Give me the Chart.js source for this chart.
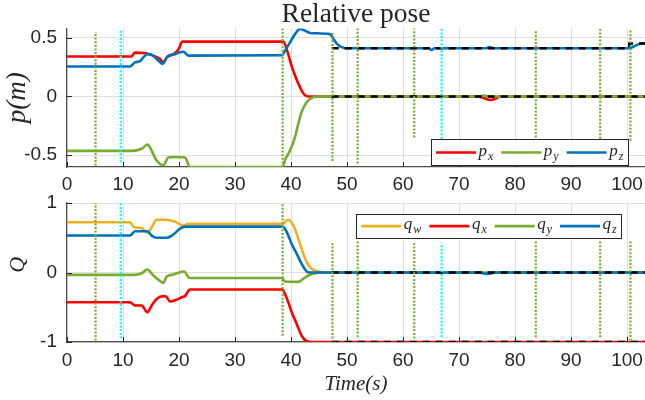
<!DOCTYPE html>
<html><head><meta charset="utf-8">
<script src="https://cdn.jsdelivr.net/npm/chart.js@4"></script>
<style>
html,body{margin:0;padding:0;background:#fff;}
#wrap{position:relative;width:645px;height:400px;overflow:hidden;background:#fff;}
#c1{position:absolute;left:0;top:0;}
#c2{position:absolute;left:0;top:185px;}
</style></head><body>
<div id="wrap"><canvas id="c1" width="645" height="200"></canvas><canvas id="c2" width="645" height="215"></canvas></div>
<script>
// ---------- data ----------
const xTickLabels = [0,10,20,30,40,50,60,70,80,90,100];
const X_MAX = 103.2;

// relative position
const pxTime = [0, 11.5, 12.1, 13.9, 15.4, 16.6, 17.2, 17.8, 19.0, 19.9, 20.6, 38.6, 39.5, 40.1, 40.7, 41.3, 41.9, 42.5, 43.1, 73.2, 74.5, 75.5, 76.5, 77.3, 103.2];
const pxVal  = [0.34, 0.34, 0.373, 0.37, 0.347, 0.32, 0.29, 0.33, 0.36, 0.40, 0.466, 0.466, 0.36, 0.26, 0.18, 0.11, 0.05, 0.01, 0, 0, -0.015, -0.03, -0.02, 0, 0];
const pyTime = [0, 11.55, 13.33, 14.35, 16.0, 17.2, 18.1, 19.29, 21.07, 21.96, 38.5, 38.93, 39.82, 40.71, 41.31, 41.9, 42.8, 43.69, 44.58, 73.5, 74.5, 75.5, 103.2];
const pyVal  = [-0.463, -0.463, -0.445, -0.41, -0.545, -0.585, -0.52, -0.515, -0.52, -0.6, -0.6, -0.54, -0.46, -0.345, -0.23, -0.13, -0.05, -0.012, 0, 0, 0.008, 0, 0];
const pzTime = [0, 11.25, 12.14, 13.04, 13.63, 14.35, 15.3, 16.3, 17.08, 17.92, 19.29, 20.77, 21.67, 38.4, 38.93, 39.82, 40.71, 41.61, 42.5, 43.39, 46.96, 47.56, 48.15, 49.05, 49.94, 64.6, 65.1, 65.6, 74.8, 75.5, 76.2, 100.5, 101.2, 102.0, 103.2];
const pzVal  = [0.255, 0.255, 0.29, 0.30, 0.333, 0.36, 0.35, 0.305, 0.277, 0.34, 0.36, 0.38, 0.347, 0.35, 0.39, 0.46, 0.53, 0.575, 0.56, 0.54, 0.53, 0.49, 0.45, 0.42, 0.41, 0.41, 0.395, 0.41, 0.41, 0.42, 0.41, 0.41, 0.425, 0.443, 0.455];
const refPTime = [47.26, 103.2];
const refPVal  = [0, 0];
const refPzTime = [47.26, 100.4, 100.4, 103.2];
const refPzVal  = [0.41, 0.41, 0.45, 0.45];

// relative orientation (quaternion)
const qwTime = [0, 11.25, 11.96, 13.33, 14.35, 15.12, 16.0, 17.8, 19.29, 20.77, 21.67, 38.5, 39.2, 39.6, 40.42, 41.01, 41.61, 42.2, 42.8, 43.69, 44.88, 46.37, 73.5, 75, 76.5, 103.2];
const qwVal  = [0.724, 0.724, 0.65, 0.64, 0.57, 0.65, 0.76, 0.76, 0.73, 0.676, 0.70, 0.70, 0.75, 0.755, 0.676, 0.556, 0.41, 0.27, 0.15, 0.053, 0.015, 0, 0, -0.015, 0, 0];
const qxTime = [0, 11.25, 12.14, 13.33, 14.35, 15.12, 16.0, 17.2, 17.68, 18.39, 19.6, 20.48, 21.07, 21.96, 38.4, 38.93, 39.52, 40.12, 41.01, 41.9, 42.8, 43.69, 103.2];
const qxVal  = [-0.427, -0.427, -0.475, -0.475, -0.57, -0.475, -0.38, -0.34, -0.345, -0.417, -0.39, -0.355, -0.34, -0.245, -0.245, -0.31, -0.43, -0.57, -0.74, -0.91, -0.99, -1, -1];
const qyTime = [0, 11.96, 13.33, 14.35, 15.42, 16.49, 17.2, 17.8, 18.99, 20.18, 20.9, 21.67, 22.2, 38.4, 38.93, 41.31, 42.2, 43.1, 44.29, 45.48, 103.2];
const qyVal  = [-0.034, -0.034, -0.01, 0.043, -0.043, -0.115, -0.15, -0.058, -0.029, 0.005, 0.015, -0.067, -0.08, -0.08, -0.13, -0.135, -0.09, -0.043, -0.01, 0, 0];
const qzTime = [0, 11.25, 12.14, 14.35, 15.12, 16.0, 17.8, 18.99, 20.18, 21.07, 38.5, 38.93, 39.52, 40.12, 41.01, 41.9, 42.8, 43.39, 73.5, 75, 76.5, 103.2];
const qzVal  = [0.532, 0.532, 0.594, 0.594, 0.53, 0.50, 0.50, 0.547, 0.63, 0.66, 0.66, 0.63, 0.53, 0.41, 0.27, 0.125, 0.015, 0, 0, -0.02, 0, 0];
const refQ0Time = [47.26, 103.2];
const refQ0Val  = [0, 0];
const refQm1Time = [47.26, 103.2];
const refQm1Val  = [-1, -1];

// event markers (vertical dotted lines)
const greenEventTimes = [5.1, 38.5, 47.4, 51.9, 62.0, 83.7, 95.2, 100.6];
const greenTopLow  = [-0.588, -0.6, -0.55, -0.57, -0.35, -0.35, -0.36, -0.375];
const greenTopHigh = [0.548, 0.6, 0.55, 0.6, 0.6, 0.57, 0.577, 0.56];
const greenBotLow  = [-0.98, -0.91, -0.95, -0.93, -0.95, -0.93, -0.93, -0.98];
const greenBotHigh = [1.0, 1.05, 0.42, 0.46, 0.42, 0.45, 0.45, 0.45];
const cyanEventTimes = [9.6, 66.9];
const cyanTopLow  = [-0.56, -0.36];
const cyanTopHigh = [0.56, 0.6];
const cyanBotLow  = [-0.95, -0.93];
const cyanBotHigh = [1.0, 0.42];

// ---------- styling ----------
const C = {red:'#FF0000', green:'#77AC30', blue:'#0072BD', yellow:'#EDB120', cyan:'#00FFFF', ink:'#262626', grid:'#dfdfdf', axis:'#4d4d4d'};
const TICK_FONT = {family:'"Liberation Sans", Arial, sans-serif', size:19};
const SERIF = '"Liberation Serif", "Times New Roman", serif';
const LW = 2.6;

function pts(t, v){ return t.map((x,i)=>({x:x, y:v[i]})); }
function seriesDs(t, v, color, order){
  return {data: pts(t,v), borderColor: color, backgroundColor: color, borderWidth: LW, pointRadius: 0,
          cubicInterpolationMode: 'monotone', fill: false, order: order};
}
function refDs(t, v){
  return {data: pts(t,v), borderColor:'#000', borderWidth:2.6, borderDash:[7,6], pointRadius:0, fill:false, order:1};
}
function eventDs(times, lows, highs, color){
  return times.map((t,i)=>({data:[{x:t,y:lows[i]},{x:t,y:highs[i]}], borderColor:color, borderWidth:2.2,
          borderDash:[2,1.6], borderCapStyle:'butt', pointRadius:0, fill:false, order:0}));
}

const decor = {
  id:'decor',
  afterDatasetsDraw(chart, args, opts){
    const ctx = chart.ctx, a = chart.chartArea, xs = chart.scales.x, ys = chart.scales.y;
    ctx.save();
    ctx.strokeStyle = C.ink; ctx.lineWidth = 1;
    ctx.beginPath();
    xs.ticks.forEach(t=>{ const p = Math.round(xs.getPixelForValue(t.value))+0.5; ctx.moveTo(p, a.bottom); ctx.lineTo(p, a.bottom-5); });
    ys.ticks.forEach(t=>{ const p = Math.round(ys.getPixelForValue(t.value))+0.5; ctx.moveTo(a.left, p); ctx.lineTo(a.left+5, p); });
    ctx.stroke();
    // legend
    const L = opts.legend;
    const mainFont = 'italic ' + L.size + 'px ' + SERIF, subFont = 'italic ' + L.subSize + 'px ' + SERIF;
    const widths = L.items.map(it=>{ ctx.font = mainFont; const w1 = ctx.measureText(it.text).width; ctx.font = subFont; return w1 + 1 + ctx.measureText(it.sub).width; });
    const padL = 5, lineW = 40, gapA = 2.5, gapB = 8, padR = 5;
    let total = padL + padR;
    widths.forEach((w,i)=>{ total += lineW + gapA + w + (i < widths.length-1 ? gapB : 0); });
    const x1 = a.right - L.right, x0 = x1 - total;
    const y0 = (L.top != null) ? a.top + L.top : a.bottom - L.bottom - L.h;
    ctx.fillStyle = '#fff'; ctx.fillRect(x0, y0, total, L.h);
    ctx.strokeStyle = C.ink; ctx.lineWidth = 1;
    ctx.strokeRect(Math.round(x0)+0.5, Math.round(y0)+0.5, Math.round(total), Math.round(L.h));
    let x = x0 + padL; const yc = y0 + L.h/2;
    L.items.forEach((it,i)=>{
      ctx.strokeStyle = it.color; ctx.lineWidth = LW; ctx.setLineDash([]);
      ctx.beginPath(); ctx.moveTo(x, yc); ctx.lineTo(x+lineW, yc); ctx.stroke();
      x += lineW + gapA;
      ctx.fillStyle = C.ink; ctx.textBaseline = 'alphabetic'; ctx.textAlign = 'left';
      ctx.font = mainFont; ctx.fillText(it.text, x, yc + 3);
      const w1 = ctx.measureText(it.text).width;
      ctx.font = subFont; ctx.fillText(it.sub, x + w1 + 1, yc + 7);
      x += widths[i] + gapB;
    });
    ctx.restore();
  }
};

function xScale(pad, height, titleCfg){
  const s = {type:'linear', min:0, max:X_MAX, position:'bottom',
    ticks:{stepSize:10, includeBounds:false, autoSkip:false, maxRotation:0, font:TICK_FONT, color:C.ink, padding:pad,
           callback:(v)=> xTickLabels.includes(v) ? String(v) : ''},
    grid:{color:C.grid, lineWidth:1, drawTicks:false},
    border:{display:true, color:C.axis, width:1.2},
    afterFit:(sc)=>{ sc.height = height; sc.paddingLeft = 0; sc.paddingRight = 0; }
  };
  if (titleCfg) s.title = titleCfg;
  return s;
}
function yScale(min, max, step, title){
  return {type:'linear', min:min, max:max,
    ticks:{stepSize:step, includeBounds:false, font:TICK_FONT, color:C.ink, padding:10},
    grid:{color:C.grid, lineWidth:1, drawTicks:false},
    border:{display:true, color:C.axis, width:1.2},
    title:title,
    afterFit:(sc)=>{ sc.width = 67; sc.paddingTop = 0; sc.paddingBottom = 0; }
  };
}

const common = {responsive:false, animation:false, events:[], parsing:true};

new Chart(document.getElementById('c1'), {
  type:'line',
  data:{datasets:[
    ...eventDs(greenEventTimes, greenTopLow, greenTopHigh, C.green),
    ...eventDs(cyanEventTimes, cyanTopLow, cyanTopHigh, C.cyan),
    refDs(refPTime, refPVal), refDs(refPzTime, refPzVal),
    seriesDs(pzTime, pzVal, C.blue, 2),
    seriesDs(pyTime, pyVal, C.green, 3),
    seriesDs(pxTime, pxVal, C.red, 4)
  ]},
  options:Object.assign({}, common, {
    layout:{padding:0},
    scales:{
      x: xScale(6, 33, null),
      y: yScale(-0.6, 0.578, 0.5, {display:true, text:'p(m)', color:C.ink, font:{family:SERIF, style:'italic', size:27, lineHeight:1}, padding:{top:4, bottom:0}})
    },
    plugins:{
      legend:{display:false}, tooltip:{enabled:false},
      title:{display:true, text:'Relative pose', color:C.ink, fullSize:false, font:{family:SERIF, size:27.5, weight:'normal', lineHeight:1}, padding:{top:1, bottom:0}},
      decor:{legend:{size:17, subSize:12, right:16.7, bottom:1.3, h:26.4, items:[
        {text:'p', sub:'x', color:C.red}, {text:'p', sub:'y', color:C.green}, {text:'p', sub:'z', color:C.blue}]}}
    }
  }),
  plugins:[decor]
});

new Chart(document.getElementById('c2'), {
  type:'line',
  data:{datasets:[
    ...eventDs(greenEventTimes, greenBotLow, greenBotHigh, C.green),
    ...eventDs(cyanEventTimes, cyanBotLow, cyanBotHigh, C.cyan),
    refDs(refQ0Time, refQ0Val), refDs(refQm1Time, refQm1Val),
    seriesDs(qzTime, qzVal, C.blue, 2),
    seriesDs(qyTime, qyVal, C.green, 3),
    seriesDs(qxTime, qxVal, C.red, 4),
    seriesDs(qwTime, qwVal, C.yellow, 5)
  ]},
  options:Object.assign({}, common, {
    layout:{padding:{top:18, left:0, right:0, bottom:0}},
    scales:{
      x: xScale(7.5, 58, {display:true, text:'Time(s)', color:C.ink, font:{family:SERIF, style:'italic', size:21, lineHeight:1}, padding:{top:0, bottom:5.5}}),
      y: yScale(-1, 1, 1, {display:true, text:'\u2002\u2009Q', color:C.ink, font:{family:SERIF, style:'italic', size:22, lineHeight:1}, padding:{top:7, bottom:0}})
    },
    plugins:{
      legend:{display:false}, tooltip:{enabled:false}, title:{display:false},
      decor:{legend:{size:17, subSize:12, right:23.3, top:11, h:24.3, items:[
        {text:'q', sub:'w', color:C.yellow}, {text:'q', sub:'x', color:C.red}, {text:'q', sub:'y', color:C.green}, {text:'q', sub:'z', color:C.blue}]}}
    }
  }),
  plugins:[decor]
});
</script>
</body></html>
